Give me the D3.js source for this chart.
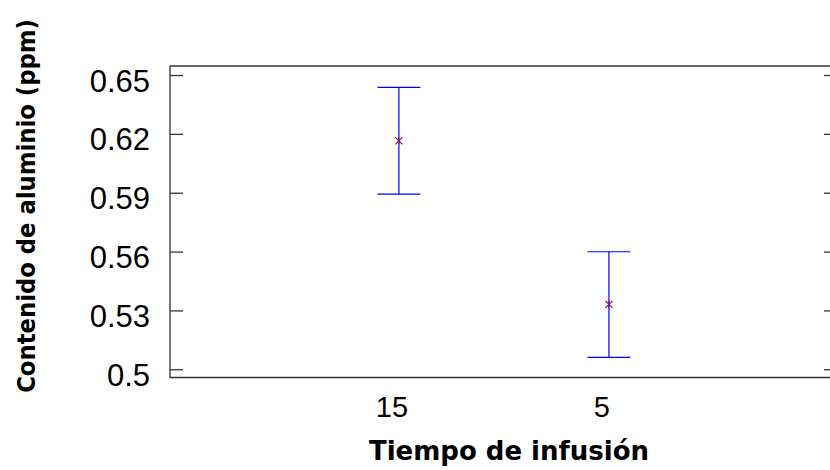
<!DOCTYPE html>
<html>
<head>
<meta charset="utf-8">
<script src="https://cdn.jsdelivr.net/npm/d3@7"></script>
<style>
  html, body { margin: 0; padding: 0; background: #fff; }
  svg { display: block; }
</style>
</head>
<body>
<svg id="chart" width="830" height="470"></svg>
<script>
// ---- data ----
const categories = ["15", "5"];
const means = [0.6164, 0.5331];
const lowerBounds = [0.5893, 0.5061];
const upperBounds = [0.6437, 0.5599];
const yTicks = [0.5, 0.53, 0.56, 0.59, 0.62, 0.65];
const yTickLabels = ["0.5", "0.53", "0.56", "0.59", "0.62", "0.65"];
const yDomain = [0.4958, 0.6546];
const xDomain = [-1.09, 2.086];
const xTitle = "Tiempo de infusión";
const yTitle = "Contenido de aluminio (ppm)";

(function () {
// ---- layout ----
const svg = d3.select("#chart");
const pLeft = 170, pRight = 837, pTop = 66, pBottom = 377.5;

const x = d3.scaleLinear().domain(xDomain).range([pLeft, pRight]);
const y = d3.scaleLinear().domain(yDomain).range([pBottom, pTop]);

const frameColor = "#333";
const tickFont = "'Liberation Sans', Arial, Helvetica, sans-serif";
const titleFont = "'Comic Sans MS', 'DejaVu Sans', sans-serif";

// frame (top, left, bottom)
svg.append("path")
  .attr("d", `M${pRight},${pTop}H${pLeft}V${pBottom}H${pRight}`)
  .attr("fill", "none")
  .attr("stroke", frameColor)
  .attr("stroke-width", 1.3);

// left axis ticks (inward)
const leftAxis = d3.axisRight(y).tickValues(yTicks).tickSize(13).tickFormat("");
const gL = svg.append("g").attr("transform", `translate(${pLeft},0)`).call(leftAxis);
gL.select(".domain").remove();
gL.selectAll(".tick line").attr("stroke", frameColor).attr("stroke-width", 1.3);

// right axis ticks (inward)
const rightAxis = d3.axisLeft(y).tickValues(yTicks).tickSize(13).tickFormat("");
const gR = svg.append("g").attr("transform", `translate(${pRight},0)`).call(rightAxis);
gR.select(".domain").remove();
gR.selectAll(".tick line").attr("stroke", frameColor).attr("stroke-width", 1.3);

// y tick labels
svg.append("g").selectAll("text")
  .data(yTicks)
  .join("text")
  .attr("x", 150)
  .attr("y", d => y(d) + 16.5)
  .attr("text-anchor", "end")
  .attr("font-family", tickFont)
  .attr("font-size", 31)
  .attr("fill", "#000")
  .text((d, i) => yTickLabels[i]);

// x tick labels
svg.append("g").selectAll("text")
  .data(categories)
  .join("text")
  .attr("x", (d, i) => x(i) - 7)
  .attr("y", 416.5)
  .attr("text-anchor", "middle")
  .attr("font-family", tickFont)
  .attr("font-size", 29)
  .attr("fill", "#000")
  .text(d => d);

// error bars
const capHalf = 21.5;
const eb = svg.append("g").attr("stroke", "#0000ff").attr("stroke-width", 1.2);
categories.forEach((c, i) => {
  const cx = x(i);
  eb.append("line").attr("x1", cx).attr("x2", cx).attr("y1", y(upperBounds[i])).attr("y2", y(lowerBounds[i]));
  eb.append("line").attr("x1", cx - capHalf).attr("x2", cx + capHalf).attr("y1", y(upperBounds[i])).attr("y2", y(upperBounds[i]));
  eb.append("line").attr("x1", cx - capHalf).attr("x2", cx + capHalf).attr("y1", y(lowerBounds[i])).attr("y2", y(lowerBounds[i]));
});

// markers (asterisk)
const mk = svg.append("g").attr("stroke", "#8b1060").attr("stroke-width", 1.2);
categories.forEach((c, i) => {
  const cx = x(i), cy = y(means[i]), r = 3.5;
  mk.append("line").attr("x1", cx - r).attr("x2", cx + r).attr("y1", cy - r).attr("y2", cy + r);
  mk.append("line").attr("x1", cx - r).attr("x2", cx + r).attr("y1", cy + r).attr("y2", cy - r);
  mk.append("line").attr("x1", cx).attr("x2", cx).attr("y1", cy - r).attr("y2", cy + r);
});

// axis titles (scaled horizontally to fit the reference extents)
function fitTitle(txt, tx, ty, rot, targetLen, size) {
  const g = svg.append("g");
  const t = g.append("text")
    .attr("text-anchor", "middle")
    .attr("font-family", titleFont)
    .attr("font-weight", "bold")
    .attr("font-size", size)
    .attr("fill", "#000")
    .text(txt);
  const len = t.node().getComputedTextLength();
  const s = Math.min(1, targetLen / len);
  g.attr("transform", `translate(${tx},${ty}) rotate(${rot}) scale(${s},1)`);
}
fitTitle(xTitle, 509, 460, 0, 288, 26);
fitTitle(yTitle, 35, 206, -90, 374, 25);
})();
</script>
</body>
</html>
